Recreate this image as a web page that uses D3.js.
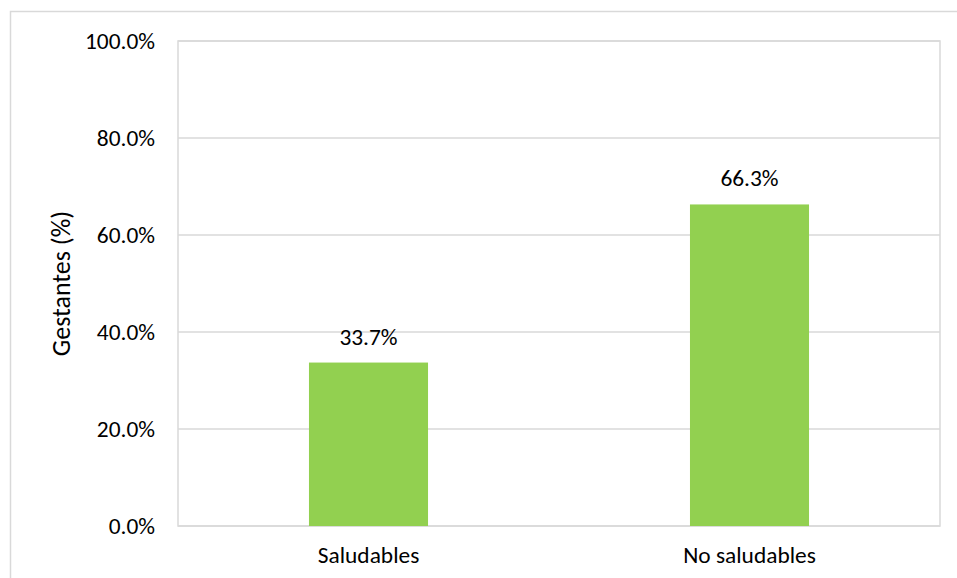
<!DOCTYPE html>
<html><head><meta charset="utf-8">
<script src="https://cdn.jsdelivr.net/npm/d3@7"></script>
<style>body{margin:0;background:#fff}svg{display:block}text{font-family:Carlito,Lato,"Open Sans",sans-serif;fill:#000}</style>
</head><body>
<svg id="c" width="957" height="578"></svg>
<script>
const categories = ["Saludables", "No saludables"];
const values = [33.7, 66.3];
const yTicks = [0, 20, 40, 60, 80, 100];
const yLabel = "Gestantes (%)";

const svg = d3.select("#c");
const m = {l:178, t:41, r:940, b:526};
const fs = 23.4;

svg.append("rect").attr("x",10.5).attr("y",11.5).attr("width",1000).attr("height",1000)
  .attr("fill","none").attr("stroke","#d9d9d9").attr("stroke-width",1.5);

const x = d3.scaleBand().domain(categories).range([m.l, m.r]).paddingInner(0.6875).paddingOuter(0.34375);
const y = d3.scaleLinear().domain([0,100]).range([m.b, m.t]);

svg.append("g").selectAll("line").data(yTicks).join("line")
  .attr("x1",m.l).attr("x2",m.r).attr("y1",d=>y(d)).attr("y2",d=>y(d))
  .attr("stroke","#d9d9d9").attr("stroke-width",1.5);
svg.append("rect").attr("x",m.l).attr("y",m.t).attr("width",m.r-m.l).attr("height",m.b-m.t)
  .attr("fill","none").attr("stroke","#d9d9d9").attr("stroke-width",1.5);

const ya = d3.axisLeft(y).tickValues(yTicks).tickFormat(d=>d.toFixed(1)+"%").tickSize(0).tickPadding(23);
const yg = svg.append("g").attr("transform",`translate(${m.l},0)`).call(ya);
yg.select(".domain").remove();
yg.selectAll("text").style("font-size",fs+"px").attr("fill","#000").style("font-family","Carlito,Lato,sans-serif");

const xa = d3.axisBottom(x).tickSize(0).tickPadding(20);
const xg = svg.append("g").attr("transform",`translate(0,${m.b})`).call(xa);
xg.select(".domain").remove();
xg.selectAll("text").style("font-size",fs+"px").attr("fill","#000").style("font-family","Carlito,Lato,sans-serif");

svg.append("g").selectAll("rect").data(values).join("rect")
  .attr("x",(d,i)=>x(categories[i])).attr("width",x.bandwidth())
  .attr("y",d=>y(d)).attr("height",d=>m.b-y(d)).attr("fill","#92d050");

svg.append("g").selectAll("text").data(values).join("text")
  .attr("x",(d,i)=>x(categories[i])+x.bandwidth()/2).attr("y",d=>y(d)-18)
  .attr("text-anchor","middle").style("font-size",fs+"px").text(d=>d.toFixed(1)+"%");

svg.append("text").attr("transform",`translate(70,${(m.t+m.b)/2}) rotate(-90)`)
  .attr("text-anchor","middle").style("font-size","26px").text(yLabel);
</script>
</body></html>
